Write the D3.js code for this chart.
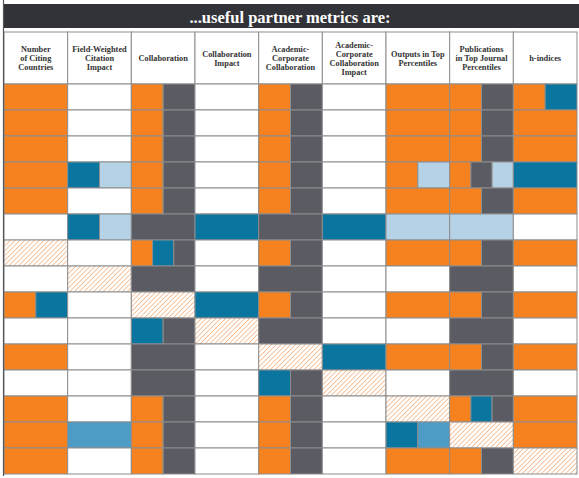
<!DOCTYPE html>
<html>
<head>
<meta charset="utf-8">
<script src="https://cdn.jsdelivr.net/npm/d3@7"></script>
<style>
  html, body { margin: 0; padding: 0; background: #ffffff; }
  svg { display: block; }
</style>
</head>
<body>
<div id="chart"></div>
<script>
// ---- Data ----
const title = "...useful partner metrics are:";
const metrics = [
  ["Number", "of Citing", "Countries"],
  ["Field-Weighted", "Citation", "Impact"],
  ["Collaboration"],
  ["Collaboration", "Impact"],
  ["Academic-", "Corporate", "Collaboration"],
  ["Academic-", "Corporate", "Collaboration", "Impact"],
  ["Outputs in Top", "Percentiles"],
  ["Publications", "in Top Journal", "Percentiles"],
  ["h-indices"]
];
const rowIds = d3.range(1, 16).map(String);
// Cell codes: O orange, G gray, B blue, L light blue, M mid blue, H hatched, W white
// Multiple letters = equal split segments inside the cell
const grid = [
  ["O", "W",  "OG",  "W", "OG", "W", "O",  "OG",  "OB"],
  ["O", "W",  "OG",  "W", "OG", "W", "O",  "OG",  "O"],
  ["O", "W",  "OG",  "W", "OG", "W", "O",  "OG",  "O"],
  ["O", "BL", "OG",  "W", "OG", "W", "OL", "OGL", "B"],
  ["O", "W",  "OG",  "W", "OG", "W", "O",  "OG",  "O"],
  ["W", "BL", "G",   "B", "G",  "B", "L",  "L",   "W"],
  ["H", "W",  "OBG", "W", "OG", "W", "O",  "OG",  "O"],
  ["W", "H",  "G",   "W", "G",  "W", "W",  "G",   "W"],
  ["OB","W",  "H",   "B", "OG", "W", "O",  "OG",  "O"],
  ["W", "W",  "BG",  "H", "G",  "W", "W",  "G",   "W"],
  ["O", "W",  "G",   "W", "H",  "B", "O",  "OG",  "O"],
  ["W", "W",  "G",   "W", "BG", "H", "W",  "G",   "W"],
  ["O", "W",  "OG",  "W", "OG", "W", "H",  "OBG", "O"],
  ["O", "M",  "OG",  "W", "OG", "W", "BM", "H",   "O"],
  ["O", "W",  "OG",  "W", "OG", "W", "O",  "OG",  "H"]
];

// ---- Styles ----
const palette = {
  O: "#f5821f", G: "#5a5b63", B: "#0a76a0", L: "#b6d2e6",
  M: "#4c9cc6", H: "url(#hatch)", W: "#ffffff"
};

const W = 579, H = 478;
const svg = d3.select("#chart").append("svg").attr("width", W).attr("height", H);

const defs = svg.append("defs");
const pat = defs.append("pattern")
  .attr("id", "hatch").attr("patternUnits", "userSpaceOnUse")
  .attr("width", 3.4).attr("height", 3.4)
  .attr("patternTransform", "rotate(45)");
pat.append("rect").attr("width", 3.4).attr("height", 3.4).attr("fill", "#ffffff");
pat.append("line").attr("x1", 0).attr("y1", 0).attr("x2", 0).attr("y2", 3.4)
  .attr("stroke", "#f1883a").attr("stroke-width", 1);

const x = d3.scaleBand().domain(d3.range(metrics.length)).range([4, 577]);
const y = d3.scaleBand().domain(rowIds).range([84, 474]);
const headerTop = 32, headerBottom = 84;

// Title bar
svg.append("rect").attr("x", 4).attr("y", 4).attr("width", W - 4).attr("height", 24)
  .attr("fill", "#323338");
svg.append("text").attr("x", 290).attr("y", 22.5)
  .attr("text-anchor", "middle")
  .attr("font-family", "'Liberation Serif', 'DejaVu Serif', serif")
  .attr("font-weight", "bold").attr("font-size", 16.5)
  .attr("fill", "#ffffff").text(title);

// Header cells
const hdr = svg.append("g");
hdr.selectAll("rect").data(metrics).join("rect")
  .attr("x", (d, i) => x(i)).attr("y", headerTop)
  .attr("width", x.bandwidth()).attr("height", headerBottom - headerTop)
  .attr("fill", "#ffffff").attr("stroke", "#8d8d8d").attr("stroke-width", 1);
const lineH = 9;
hdr.selectAll("text").data(metrics).join("text")
  .attr("text-anchor", "middle")
  .attr("font-family", "'Liberation Serif', 'DejaVu Serif', serif")
  .attr("font-weight", "bold").attr("font-size", 8.3)
  .attr("fill", "#333333")
  .each(function (lines, i) {
    const cx = x(i) + x.bandwidth() / 2;
    const cy = (headerTop + headerBottom) / 2;
    const start = cy - (lines.length - 1) * lineH / 2 + 3;
    d3.select(this).selectAll("tspan").data(lines).join("tspan")
      .attr("x", cx).attr("y", (l, k) => start + k * lineH).text(l => l);
  });

// Body cells
const segs = [];
grid.forEach((row, r) => {
  row.forEach((code, c) => {
    const parts = code.split("");
    const sub = d3.scaleBand().domain(d3.range(parts.length))
      .range([x(c), x(c) + x.bandwidth()]);
    parts.forEach((p, k) => segs.push({ row: rowIds[r], x0: sub(k), w: sub.bandwidth(), code: p }));
  });
});
svg.append("g").selectAll("rect").data(segs).join("rect")
  .attr("x", d => d.x0).attr("y", d => y(d.row))
  .attr("width", d => d.w).attr("height", y.bandwidth())
  .attr("fill", d => palette[d.code])
  .attr("stroke", "#8d8d8d").attr("stroke-width", 1);

// Left border
svg.append("line").attr("x1", 3.5).attr("x2", 3.5).attr("y1", 0).attr("y2", 476)
  .attr("stroke", "#55565c").attr("stroke-width", 1.2);
</script>
</body>
</html>
